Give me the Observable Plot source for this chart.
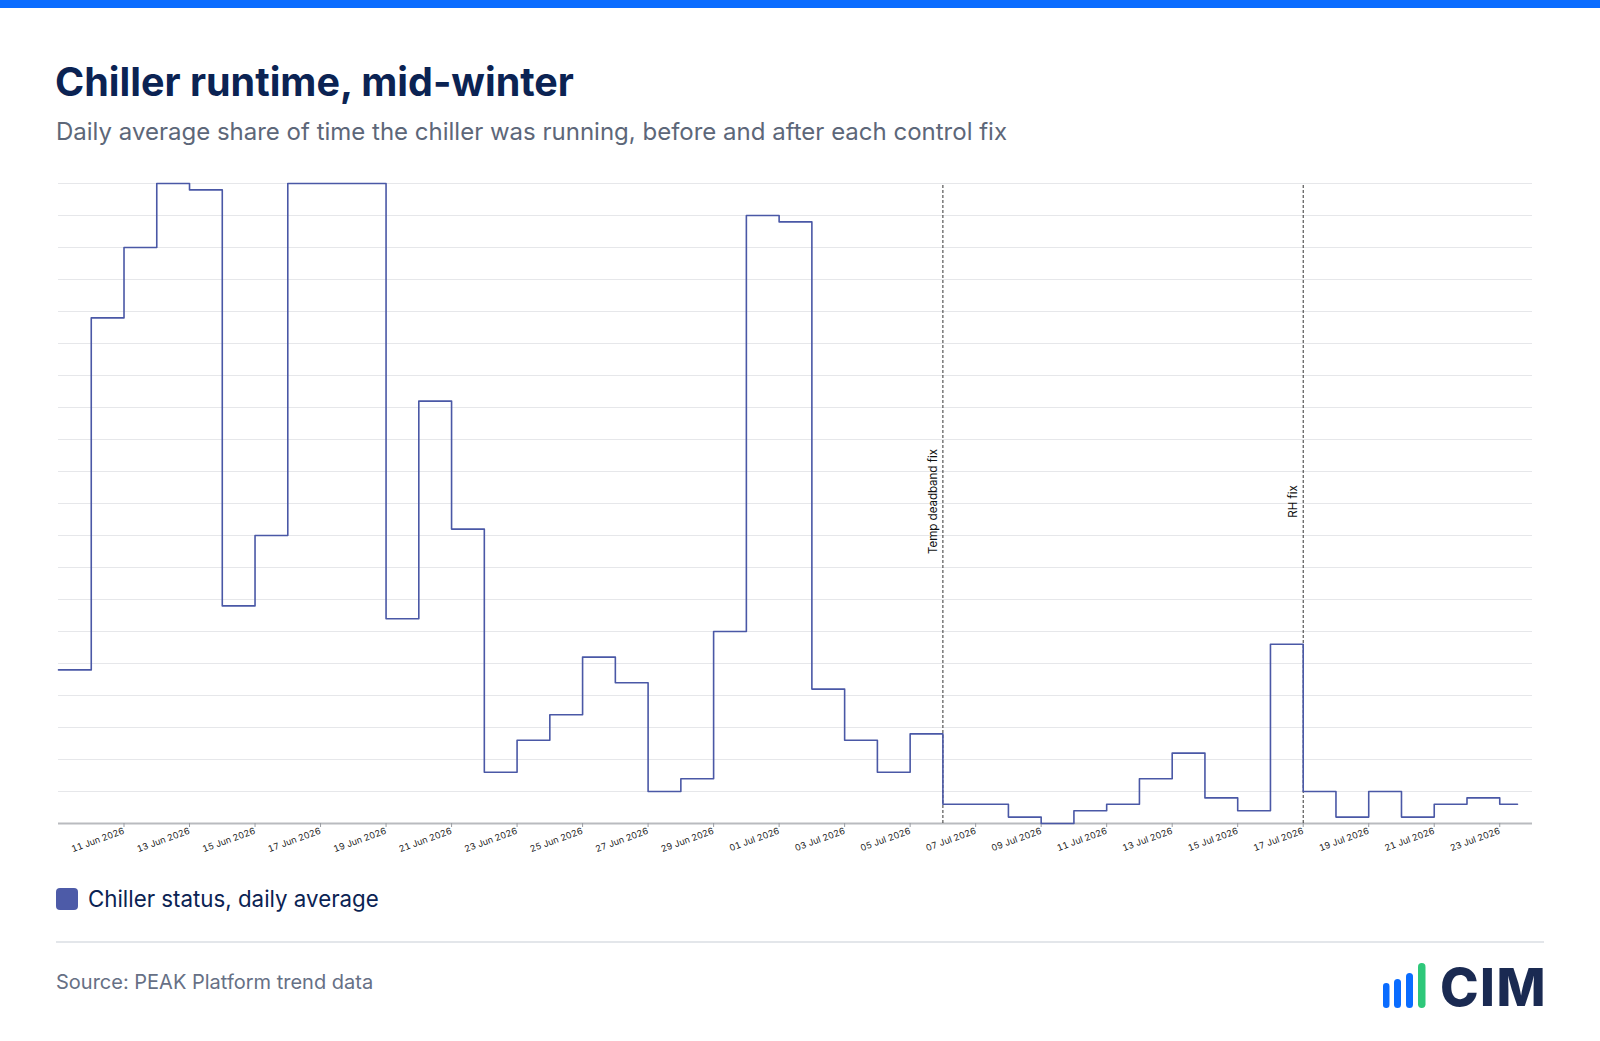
<!DOCTYPE html>
<html>
<head>
<meta charset="utf-8">
<script src="https://cdn.jsdelivr.net/npm/d3@7"></script>
<script src="https://cdn.jsdelivr.net/npm/@observablehq/plot@0.6"></script>
<style>
  html, body { margin: 0; padding: 0; background: #fff; }
  body { width: 1600px; height: 1041px; position: relative; overflow: hidden; font-family: Inter, "Noto Sans", sans-serif; }
  #topbar { position: absolute; left: 0; top: 0; width: 1600px; height: 8px; background: #0a6cff; }
  .abs { position: absolute; white-space: nowrap; }
  #title { left: 55px; top: 62px; font-size: 39.5px; line-height: 40px; font-weight: 700; color: #0b2353; }
  #subtitle { left: 56px; top: 120px; font-size: 24px; line-height: 24px; color: #5d6779; }
  #chart { position: absolute; left: 0; top: 162px; }
  #legend { left: 56px; top: 888px; display: flex; align-items: center; }
  #legend .sw { width: 22px; height: 22px; border-radius: 4px; background: #4d5ba8; margin-right: 10px; }
  #legend .lt { font-size: 22.3px; line-height: 22px; color: #0b2353; }
  #sep { position: absolute; left: 56px; top: 941px; width: 1488px; height: 1.5px; background: #e3e6ea; }
  #source { left: 56px; top: 972px; font-size: 20px; line-height: 20px; color: #667085; }
  #logo { position: absolute; left: 1378px; top: 958px; }
  #cim { right: 53px; top: 962px; font-size: 52px; line-height: 52px; font-weight: 800; color: #1a2a52; letter-spacing: 1.5px; }
</style>
</head>
<body>
<div id="topbar"></div>
<div id="title" class="abs">Chiller runtime, mid-winter</div>
<div id="subtitle" class="abs">Daily average share of time the chiller was running, before and after each control fix</div>
<div id="chart"></div>
<div id="legend" class="abs"><div class="sw"></div><div class="lt">Chiller status, daily average</div></div>
<div id="sep"></div>
<div id="source" class="abs">Source: PEAK Platform trend data</div>
<svg id="logo" width="56" height="54" viewBox="0 0 56 54">
  <rect x="5" y="25" width="6.5" height="25" rx="3.2" fill="#0a6cff"/>
  <rect x="16" y="21" width="7" height="29" rx="3.5" fill="#0a6cff"/>
  <rect x="28" y="15" width="7" height="35" rx="3.5" fill="#0a6cff"/>
  <rect x="40" y="5" width="7.5" height="45" rx="3.7" fill="#2ec87a"/>
</svg>
<div id="cim" class="abs">CIM</div>
<script>
// ---- data ----
const days = [
  "2026-06-09","2026-06-10","2026-06-11","2026-06-12","2026-06-13","2026-06-14","2026-06-15","2026-06-16",
  "2026-06-17","2026-06-18","2026-06-19","2026-06-20","2026-06-21","2026-06-22","2026-06-23","2026-06-24",
  "2026-06-25","2026-06-26","2026-06-27","2026-06-28","2026-06-29","2026-06-30","2026-07-01","2026-07-02",
  "2026-07-03","2026-07-04","2026-07-05","2026-07-06","2026-07-07","2026-07-08","2026-07-09","2026-07-10",
  "2026-07-11","2026-07-12","2026-07-13","2026-07-14","2026-07-15","2026-07-16","2026-07-17","2026-07-18",
  "2026-07-19","2026-07-20","2026-07-21","2026-07-22","2026-07-23"
];
const chillerStatus = [
  0.24, 0.79, 0.90, 1.00, 0.99, 0.34, 0.45, 1.00,
  1.00, 1.00, 0.32, 0.66, 0.46, 0.08, 0.13, 0.17,
  0.26, 0.22, 0.05, 0.07, 0.30, 0.95, 0.94, 0.21,
  0.13, 0.08, 0.14, 0.03, 0.03, 0.01, 0.00, 0.02,
  0.03, 0.07, 0.11, 0.04, 0.02, 0.28, 0.05, 0.01,
  0.05, 0.01, 0.03, 0.04, 0.03
];
const lastReading = "2026-07-23T13:00Z"; // end of the trend series
const fixDates = ["2026-07-06", "2026-07-17"];
const fixLabels = ["Temp deadband fix", "RH fix"];
const tickDays = [
  "2026-06-11","2026-06-13","2026-06-15","2026-06-17","2026-06-19","2026-06-21","2026-06-23","2026-06-25",
  "2026-06-27","2026-06-29","2026-07-01","2026-07-03","2026-07-05","2026-07-07","2026-07-09","2026-07-11",
  "2026-07-13","2026-07-15","2026-07-17","2026-07-19","2026-07-21","2026-07-23"
];
const xDomain = ["2026-06-09", "2026-07-24"];
const yGrid = d3.range(0, 21).map(i => +(i * 0.05).toFixed(2));

// ---- build ----
const parse = s => new Date(s.length === 10 ? s + "T00:00:00Z" : s);
const series = days.map((d, i) => ({date: parse(d), value: chillerStatus[i]}));
series.push({date: parse(lastReading), value: chillerStatus[chillerStatus.length - 1]});
const fixes = fixDates.map((d, i) => ({date: parse(d), label: fixLabels[i]}));
const fmt = d3.utcFormat("%d %b %Y");

const chart = Plot.plot({
  width: 1600,
  height: 701,
  marginLeft: 58,
  marginRight: 68,
  marginTop: 21,
  marginBottom: 40,
  style: {fontFamily: "Inter, 'Noto Sans', sans-serif", background: "transparent"},
  x: {type: "utc", domain: xDomain.map(parse), axis: null},
  y: {domain: [0, 1], axis: null},
  marks: [
    Plot.gridY(yGrid.filter(v => v > 0), {stroke: "#e6e7ea", strokeOpacity: 1, strokeWidth: 1}),
    Plot.ruleY([0], {stroke: "#b9bbbf", strokeWidth: 2}),
    Plot.axisX({
      ticks: tickDays.map(parse),
      tickFormat: fmt,
      tickRotate: -20,
      tickSize: 4,
      tickPadding: 3,
      fontSize: 9,
      stroke: "#9a9da3",
      fill: "#222"
    }),
    Plot.ruleX(fixes, {x: "date", y1: 0, y2: 1, stroke: "#333", strokeWidth: 1, strokeDasharray: "3,2"}),
    Plot.text(fixes, {x: "date", y: 0.5, text: "label", rotate: -90, dx: -10, dy: -2, fontSize: 11.5, fill: "#111", textAnchor: "middle"}),
    Plot.lineY(series, {x: "date", y: "value", curve: "step-after", stroke: "#4a58a6", strokeWidth: 1.6})
  ]
});
document.getElementById("chart").appendChild(chart);
</script>
</body>
</html>
